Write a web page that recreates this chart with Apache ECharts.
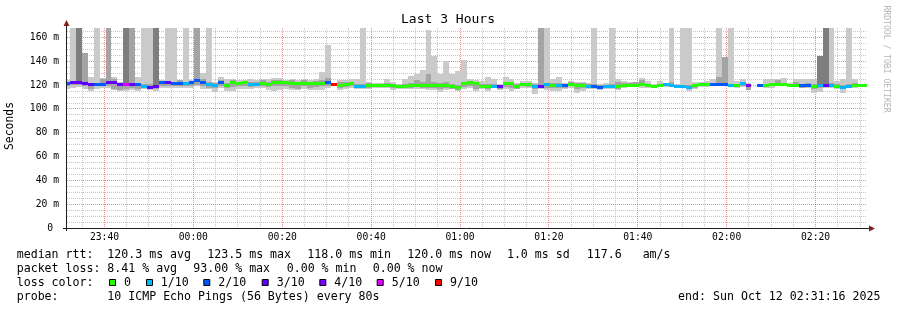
<!DOCTYPE html>
<html><head><meta charset="utf-8">
<script src="https://cdn.jsdelivr.net/npm/echarts@6/dist/echarts.min.js"></script>
<style>html,body{margin:0;padding:0;background:#fff}#c{width:897px;height:310px}</style>
</head><body><div id="c"></div>
<script>
// ---- data ----
const timeLabels = ['23:40','00:00','00:20','00:40','01:00','01:20','01:40','02:00','02:20'];
const timeSeconds = [506,1706,2906,4106,5306,6506,7706,8906,10106]; // seconds after 23:31:34
const yTickValues = [0,20,40,60,80,100,120,140,160];

const med = [
121.4,122.3,122,121,120.5,120.5,120.5,122,122,120.3,
120.3,120.3,120.3,119,118.3,118.6,122,122,121.5,121.7,
121.7,122,123.5,122.5,120.3,119.8,122.3,119.7,122.3,121.2,
122.3,120.5,120.5,121.7,120.8,122.5,122.5,122,121.5,121.5,
121.5,121.5,121.8,121.8,122.5,120.9,119.7,120.5,121,119,
119,120,119.5,119.5,120,119.3,118.7,119,120,120,
119.5,120,119.5,119.5,119.8,118.7,118.3,121,122.3,121,
119.2,119,119.2,118.8,121,121.4,118.9,120.5,120.5,118.8,
119,120.4,120,119.5,119.5,120.5,120,120,119.2,119.2,
118.3,118.8,119.2,118.8,119.5,120,120,120.5,119.5,119,
119.5,120.3,119.5,118.9,119.2,118.3,119.5,120.5,120.5,120.5,
120.5,120.5,119.5,119.5,121.1,120,null,119.5,119.5,120.5,
120.8,120.5,120,119.5,119.5,119.5,118.8,119.5,119.5,119.5,
118.8,118,119.2,119.5,119.8,119.8];

const loss = [
2,3,3,3,3,2,2,3,3,3,
5,3,2,1,3,3,2,3,2,2,
1,2,2,2,1,1,2,0,0,0,
0,1,1,0,0,0,0,0,0,0,
0,0,0,0,2,9,0,0,0,1,
1,0,0,0,0,0,0,0,0,0,
0,0,0,0,0,0,0,0,0,0,
0,0,1,3,0,0,0,0,0,1,
3,1,0,1,2,0,0,0,1,2,
2,1,1,0,0,0,0,0,0,0,
0,1,1,1,1,1,0,0,0,2,
2,2,1,0,1,4,10,2,0,0,
0,0,0,0,2,2,0,1,3,1,
0,1,1,0,0,0];

const smokeLo = [
117,118,118.5,117,115.5,117,117.5,118,116,115,
115,116,115.5,116.5,116,115,118,118,118,118,
117.5,118,119,117,117,114,118,115.5,115.5,117,
116.5,117,117.5,117.5,116,115,116,117,116,116,
117,116,116,116,118,null,116,117,118,117,
117,116.5,118,117.5,118,116,117,116.5,117,117,
117,116,116,114,116,116.5,115,117,118,115,
116.5,115.4,118,116,117,115,116.5,118,118,112.7,
117,116,115.4,115,117,118,113.6,115.4,117,117,
116,117,117,116,118,118.5,118.5,118,118,118,
118.5,118.5,118.5,117.5,118,115.4,116.8,118.5,118.2,119,
119,119,118.5,117.6,118.5,115.7,null,119,118,118,
119,119.5,119,118.5,117.5,118,113,114,117.5,118,
117,113,118.2,118,119,119];

const smokeHi = [
124.5,124,124,123.5,126.5,125,126,126,126.5,122.5,
124,124,126.5,122,122,124,124.5,124,124,124.5,
124,124,126,130,124,123,127,125,125.5,124.5,
124,125,124,125.5,125,126,126,124.5,125.5,124,
125.5,124.5,125,131,127,null,124,124,125,125,
124,122.5,121.5,121.5,125,123,121,125.3,127.3,129.5,
132.9,125,144.6,129.5,139.9,129.5,131.5,141.3,125,124,
123.7,126.7,125,121,126.5,125,122,123.7,123.7,122,
123,123,125,126.5,122,123.7,122.4,122.4,122,122,
121,121.5,123,125,123.7,122.4,122.4,126,123.7,121,
123.7,122,123,121,121.5,121,122.4,122.4,123.7,125,
124,124,122,123.7,125,121.5,null,120.5,125,125,
125,126,122,125,125,125,125,122,122,123,
123.7,125,122,125,121,121];

const midLo = [
119.5,120,120,119,117,119,119,119,117,116,
116.5,117.5,117,117.5,117,116.5,119.5,119.5,119.5,119.5,
119,119.5,120.5,119.5,118,117.5,119.5,118,118.5,119,
119,118.5,119,119,118.5,119,119.5,119,118,117,
119.5,118,118.5,119,119.5,null,118,118.5,119,118,
118,118,118.5,118.5,119,118,117.5,118,118,118.5,
118,118,118,117,118,117,116,118.5,119,116.5,
117.5,116.5,118.5,116.5,118.5,118,117,119,118.5,117,
118,118,118,118,118,119,117,118,118,118,
117,117.5,118,117,118.5,119,119,119,118.5,118.5,
119,119,119,118,118.5,117,118,119.5,119,119.5,
119.5,119.5,119,118.5,119.5,116,null,119,118.5,119,
119.5,120,119.5,119,118,118.5,117,117.5,118.5,118.5,
117.5,116.5,118.5,118.5,119,119];

const midHi = [
123,123.5,123,122.5,122,122,125,125,125,122,
122,122.5,122,121,121,123,123,123,123,124,
123,123.5,125,125,123,122,124,122,124,123,
123.5,123,122.5,124,123,124,124.5,123.5,124,123,
124.5,123,123.5,124,126,null,122.5,122.5,123,121,
121,121.5,121,121,122,121,120.5,121,122,124,
123,129,123,122,123,121,120,123,123.5,122.5,
121,121,121,120,123,123,121,122,122,121,
129.5,122,122,122,121,122.5,121.5,121.5,121,121,
120,120.5,121,123,121.5,121.5,122.4,124,121,120.5,
121,121.5,123,120,120.5,120,121,121.5,122,122,
127,124,121,121,123,121,null,120.5,121,122,
124,122,121,123,121,121.5,121,122,121,122,
121,120,121,121.5,121,121];

// columns whose smoke reaches far up (lost pings go to the top)
const peakCols  = [1,2,3,5,7,10,11,13,14,15,17,18,20,22,24,44,50,61,80,81,89,92,102,104,105,110,111,112,127,128,129,132];
const peakTop   = [168,168,147,168,168,168,168,168,168,168,168,168,168,168,168,153.7,168,166.5,168,168,168,168,168,168,168,168,143.9,168,144.5,168,168,168];
const peakShade = [1,3,2,1,2,3,2,1,1,3,1,1,1,2,1,1,1,1,2,1,1,1,1,1,1,1,2,1,3,3,1,1];

// ---- chart ----
const STEP = 80, T0 = -39.5, TMAX = 10800, YMAX = 168;
const SHADES = ['#cacaca','#a4a4a4','#7e7e7e'];
const MONO = '"DejaVu Sans Mono", monospace';
const GRID_MINOR = 'rgba(143,143,143,0.5)', GRID_MAJOR = 'rgba(230,60,60,0.6)';
function lossColor(l){
  if (l === 0) return '#26ff00';
  if (l === 1) return '#00b8ff';
  if (l === 2) return '#0059ff';
  if (l === 3) return '#5e00ff';
  if (l === 4) return '#7e00ff';
  if (l <= 8) return '#dd00ff';
  return '#ff0000';
}
const pTop = med.map(() => null), pShade = med.map(() => 0);
peakCols.forEach((c, k) => { pTop[c] = peakTop[k]; pShade[c] = peakShade[k]; });

const colData = med.map((m, i) => [T0 + STEP * i, i]);

function renderCol(params, api){
  const t = api.value(0), i = api.value(1);
  const xa = Math.round(api.coord([t, 0])[0]);
  const xb = Math.round(api.coord([t + STEP, 0])[0]);
  const w = xb - xa;
  const Y = v => Math.round(api.coord([t, v])[1]);
  const kids = [];
  const band = (a, b, fill) => {
    if (a == null || b == null) return;
    const y1 = Y(b), y2 = Y(a);
    if (y2 - y1 <= 0) return;
    kids.push({type: 'rect', shape: {x: xa, y: y1, width: w, height: y2 - y1}, style: {fill}});
  };
  const p = pTop[i], s = pShade[i];
  band(smokeLo[i], (p != null && s === 1) ? Math.max(smokeHi[i], p) : smokeHi[i], SHADES[0]);
  band(midLo[i], (p != null && s === 2) ? Math.max(midHi[i], p) : midHi[i], SHADES[1]);
  if (p != null && s === 3) band(med[i], p, SHADES[2]);
  if (med[i] != null) {
    const cy = api.coord([t, med[i]])[1];
    kids.push({type: 'rect', shape: {x: xa, y: Math.round(cy - 1.5), width: w, height: 3}, style: {fill: lossColor(loss[i])}});
  }
  return {type: 'group', children: kids};
}

const chart = echarts.init(document.getElementById('c'), null, {renderer: 'canvas'});

function txt(x, y, text, opt){
  opt = opt || {};
  return {type: 'text', x, y, rotation: opt.rot || 0, z: 100,
    style: {text, font: (opt.size || 11.6) + 'px ' + MONO, fill: opt.color || '#000',
      textAlign: opt.align || 'left', align: opt.align || 'left',
      textVerticalAlign: 'middle', verticalAlign: 'middle'}};
}
const legendItems = [
  ['0', 109, 124], ['1/10', 146, 160.7], ['2/10', 203.3, 218.3], ['3/10', 261.7, 276.7],
  ['4/10', 319.3, 334.3], ['5/10', 376.7, 391.7], ['9/10', 435, 450]
];
const legendLoss = [0, 1, 2, 3, 4, 5, 9];
const L1 = 255, L2 = 269, L3 = 283, L4 = 297;

const graphics = [
  txt(448, 20, 'Last 3 Hours', {size: 13, align: 'center'}),
  txt(10, 126, 'Seconds', {size: 11.4, align: 'center', rot: Math.PI / 2}),
  txt(886, 59, 'RRDTOOL / TOBI OETIKER', {size: 8.1, align: 'center', rot: -Math.PI / 2, color: '#b4b4b4'}),
  // axes
  {type: 'line', z: 100, shape: {x1: 66.5, y1: 25, x2: 66.5, y2: 231}, style: {stroke: '#1f1f1f', lineWidth: 1}},
  {type: 'line', z: 100, shape: {x1: 63, y1: 228.5, x2: 870, y2: 228.5}, style: {stroke: '#1f1f1f', lineWidth: 1}},
  {type: 'polygon', z: 101, shape: {points: [[66.5, 20], [63.5, 26], [69.5, 26]]}, style: {fill: '#801f1f'}},
  {type: 'polygon', z: 101, shape: {points: [[875, 228.5], [869, 225.5], [869, 231.5]]}, style: {fill: '#801f1f'}},
  // legend lines
  txt(16.7, L1, 'median rtt:'), txt(107.3, L1, '120.3 ms avg'), txt(207.3, L1, '123.5 ms max'),
  txt(307.3, L1, '118.0 ms min'), txt(407.3, L1, '120.0 ms now'), txt(506.9, L1, '1.0 ms sd'),
  txt(586.8, L1, '117.6   am/s'),
  txt(16.7, L2, 'packet loss:'), txt(107.3, L2, '8.41 % avg'), txt(193.3, L2, '93.00 % max'),
  txt(286.7, L2, '0.00 % min'), txt(372.7, L2, '0.00 % now'),
  txt(16.7, L3, 'loss color:'),
  txt(16.7, L4, 'probe:'), txt(107.3, L4, '10 ICMP Echo Pings (56 Bytes) every 80s'),
  txt(880.5, L4, 'end: Sun Oct 12 02:31:16 2025', {align: 'right'})
];
legendItems.forEach((it, k) => {
  graphics.push({type: 'rect', z: 100, shape: {x: it[1] + 0.5, y: 279.5, width: 6, height: 6},
    style: {fill: lossColor(legendLoss[k]), stroke: '#000', lineWidth: 1}});
  graphics.push(txt(it[2], L3, it[0]));
});

chart.setOption({
  animation: false,
  backgroundColor: '#fff',
  grid: {left: 67, top: 28, width: 800, height: 200, containLabel: false},
  xAxis: {
    type: 'value', min: 0, max: TMAX,
    axisLine: {show: false}, axisTick: {show: false}, splitLine: {show: false},
    axisLabel: {
      customValues: timeSeconds, margin: 4, color: '#000', fontFamily: 'DejaVu Sans Mono', fontSize: 9.7,
      formatter: v => { const k = timeSeconds.indexOf(v); return k >= 0 ? timeLabels[k] : ''; }
    }
  },
  yAxis: {
    type: 'value', min: 0, max: YMAX, interval: 20,
    axisLine: {show: false}, axisTick: {show: false}, splitLine: {show: false},
    axisLabel: {
      margin: 8, color: '#000', fontFamily: 'DejaVu Sans Mono', fontSize: 9.7,
      formatter: v => yTickValues.indexOf(v) < 0 ? '' : (v === 0 ? '0 ' : v + ' m')
    }
  },
  series: [
    {type: 'custom', name: 'rtt', z: 2, silent: true, renderItem: renderCol, data: colData, clip: true}
  ]
});

// grid lines (drawn over the data, semi-transparent, as rrdtool does), positioned through the chart's scales
const px = (x, y) => chart.convertToPixel({gridIndex: 0}, [x, y]);
const gTop = px(0, YMAX)[1], gBot = px(0, 0)[1], gLeft = px(0, 0)[0], gRight = px(TMAX, 0)[0];
const gridG = [];
for (let t = 206; t <= TMAX; t += 300) {
  const x = Math.floor(px(t, 0)[0]) + 0.5;
  const major = (t - 506) % 1200 === 0;
  gridG.push({type: 'line', z: 1, silent: true, shape: {x1: x, y1: gTop, x2: x, y2: gBot},
    style: {stroke: major ? GRID_MAJOR : GRID_MINOR, lineWidth: 1, lineDash: [1, 1]}});
}
for (let v = 5; v <= 165; v += 5) {
  const y = Math.floor(px(0, v)[1]) + 0.5;
  const major = v % 20 === 0;
  gridG.push({type: 'line', z: 1, silent: true, shape: {x1: gLeft, y1: y, x2: gRight, y2: y},
    style: {stroke: major ? GRID_MAJOR : GRID_MINOR, lineWidth: 1, lineDash: [1, 1]}});
}
chart.setOption({graphic: gridG.concat(graphics)});
</script>
</body></html>
